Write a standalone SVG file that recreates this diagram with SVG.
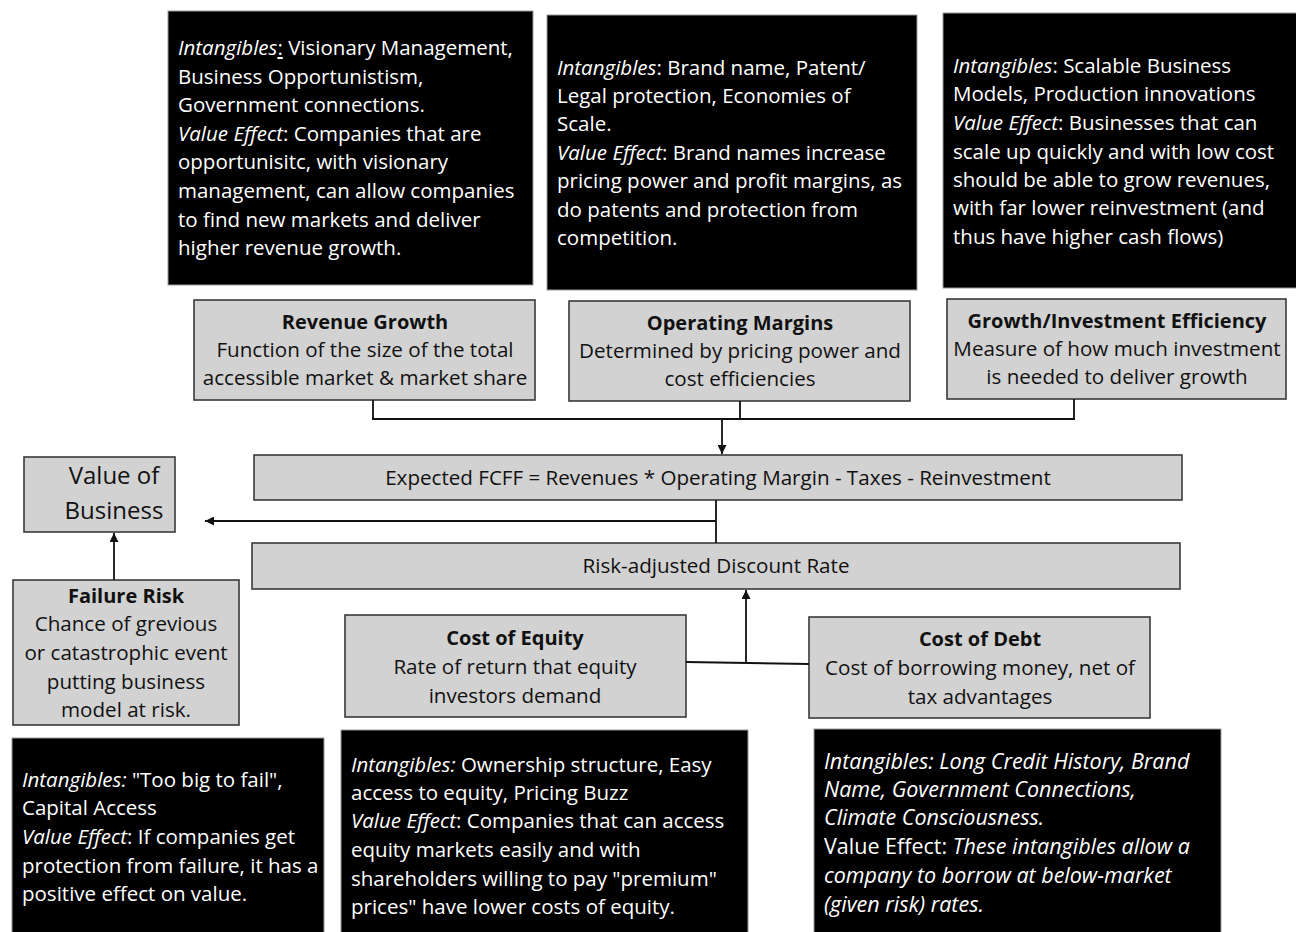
<svg xmlns="http://www.w3.org/2000/svg" width="1296" height="932" viewBox="0 0 1296 932">
<style>
.blk{fill:#000;stroke:#9a9a9a;stroke-width:1}
.gry{fill:#d2d2d2;stroke:#3a3a3a;stroke-width:1.6}
.wt{font-family:"Open Sans",Lato,sans-serif;font-size:20.5px;fill:#fff}
.gt{font-family:"Open Sans",Lato,sans-serif;font-size:20.6px;fill:#111;text-anchor:middle}
.b{font-weight:bold;font-size:20px}
.i{font-style:italic}
.ln{stroke:#111;stroke-width:1.8;fill:none}
</style>
<defs>
<marker id="ah" viewBox="0 0 10 10" refX="10" refY="5" markerWidth="9" markerHeight="9" markerUnits="userSpaceOnUse" orient="auto">
<path d="M0,0 L10,5 L0,10 z" fill="#111"/>
</marker>
</defs>
<rect width="1296" height="932" fill="#fff"/>

<g id="intang-revenue">
<rect class="blk" x="168" y="11" width="365" height="274"/>
<text class="wt"><tspan x="178" y="55"><tspan class="i">Intangibles</tspan><tspan text-decoration="underline">:</tspan> Visionary Management,</tspan><tspan x="178" y="84">Business Opportunistism,</tspan><tspan x="178" y="112">Government connections.</tspan><tspan x="178" y="141"><tspan class="i">Value Effect</tspan>: Companies that are</tspan><tspan x="178" y="169">opportunisitc, with visionary</tspan><tspan x="178" y="198">management, can allow companies</tspan><tspan x="178" y="227">to find new markets and deliver</tspan><tspan x="178" y="255">higher revenue growth.</tspan></text>
</g>

<g id="intang-margins">
<rect class="blk" x="547" y="15" width="370" height="275"/>
<text class="wt"><tspan x="557" y="75"><tspan class="i">Intangibles</tspan>: Brand name, Patent/</tspan><tspan x="557" y="103">Legal protection, Economies of</tspan><tspan x="557" y="131">Scale.</tspan><tspan x="557" y="160"><tspan class="i">Value Effect</tspan>: Brand names increase</tspan><tspan x="557" y="188">pricing power and profit margins, as</tspan><tspan x="557" y="217">do patents and protection from</tspan><tspan x="557" y="245">competition.</tspan></text>
</g>

<g id="intang-efficiency">
<rect class="blk" x="943" y="13" width="360" height="275"/>
<text class="wt"><tspan x="953" y="73"><tspan class="i">Intangibles</tspan>: Scalable Business</tspan><tspan x="953" y="101">Models, Production innovations</tspan><tspan x="953" y="130"><tspan class="i">Value Effect</tspan>: Businesses that can</tspan><tspan x="953" y="159">scale up quickly and with low cost</tspan><tspan x="953" y="187">should be able to grow revenues,</tspan><tspan x="953" y="215">with far lower reinvestment (and</tspan><tspan x="953" y="244">thus have higher cash flows)</tspan></text>
</g>

<g id="revenue-growth">
<rect class="gry" x="194" y="300" width="341" height="100"/>
<text class="gt"><tspan class="b" x="365" y="329">Revenue Growth</tspan><tspan x="365" y="357">Function of the size of the total</tspan><tspan x="365" y="385">accessible market &amp; market share</tspan></text>
</g>

<g id="operating-margins">
<rect class="gry" x="569" y="301" width="341" height="100"/>
<text class="gt"><tspan class="b" x="740" y="330">Operating Margins</tspan><tspan x="740" y="358">Determined by pricing power and</tspan><tspan x="740" y="386">cost efficiencies</tspan></text>
</g>

<g id="growth-efficiency">
<rect class="gry" x="947" y="299" width="339" height="100"/>
<text class="gt"><tspan class="b" x="1117" y="328">Growth/Investment Efficiency</tspan><tspan x="1117" y="356">Measure of how much investment</tspan><tspan x="1117" y="384">is needed to deliver growth</tspan></text>
</g>

<g id="value-of-business">
<rect class="gry" x="24" y="457" width="151" height="75"/>
<text class="gt" style="font-size:24px"><tspan x="114" y="484">Value of</tspan><tspan x="114" y="519">Business</tspan></text>
</g>

<g id="fcff">
<rect class="gry" x="254" y="455" width="928" height="45"/>
<text class="gt" x="718" y="485">Expected FCFF = Revenues * Operating Margin - Taxes - Reinvestment</text>
</g>

<g id="discount-rate">
<rect class="gry" x="252" y="543" width="928" height="46"/>
<text class="gt" x="716" y="573">Risk-adjusted Discount Rate</text>
</g>

<g id="failure-risk">
<rect class="gry" x="13" y="580" width="226" height="145"/>
<text class="gt"><tspan class="b" x="126" y="603">Failure Risk</tspan><tspan x="126" y="631">Chance of grevious</tspan><tspan x="126" y="660">or catastrophic event</tspan><tspan x="126" y="689">putting business</tspan><tspan x="126" y="717">model at risk.</tspan></text>
</g>

<g id="cost-of-equity">
<rect class="gry" x="345" y="615" width="341" height="102"/>
<text class="gt"><tspan class="b" x="515" y="645">Cost of Equity</tspan><tspan x="515" y="674">Rate of return that equity</tspan><tspan x="515" y="703">investors demand</tspan></text>
</g>

<g id="cost-of-debt">
<rect class="gry" x="809" y="617" width="341" height="101"/>
<text class="gt"><tspan class="b" x="980" y="646">Cost of Debt</tspan><tspan x="980" y="675">Cost of borrowing money, net of</tspan><tspan x="980" y="704">tax advantages</tspan></text>
</g>

<g id="intang-failure">
<rect class="blk" x="12" y="738" width="312" height="200"/>
<text class="wt"><tspan x="22" y="787"><tspan class="i">Intangibles:</tspan>  "Too big to fail",</tspan><tspan x="22" y="815">Capital Access</tspan><tspan x="22" y="844"><tspan class="i">Value Effect</tspan>: If companies get</tspan><tspan x="22" y="873">protection from failure, it has a</tspan><tspan x="22" y="901">positive effect on value.</tspan></text>
</g>

<g id="intang-equity">
<rect class="blk" x="341" y="730" width="407" height="208"/>
<text class="wt"><tspan x="351" y="772"><tspan class="i">Intangibles:</tspan> Ownership structure, Easy</tspan><tspan x="351" y="800">access to equity, Pricing Buzz</tspan><tspan x="351" y="828"><tspan class="i">Value Effect</tspan>: Companies that can access</tspan><tspan x="351" y="857">equity markets easily and with</tspan><tspan x="351" y="886">shareholders willing to pay "premium"</tspan><tspan x="351" y="914">prices" have lower costs of equity.</tspan></text>
</g>

<g id="intang-debt">
<rect class="blk" x="814" y="729" width="407" height="209"/>
<text class="wt" style="font-size:21.5px"><tspan class="i" x="824" y="769">Intangibles: Long Credit History, Brand</tspan><tspan class="i" x="824" y="797">Name, Government Connections,</tspan><tspan class="i" x="824" y="825">Climate Consciousness.</tspan><tspan x="824" y="854">Value Effect: <tspan class="i">These intangibles allow a</tspan></tspan><tspan class="i" x="824" y="883">company to borrow at below-market</tspan><tspan class="i" x="824" y="912">(given risk) rates.</tspan></text>
</g>

<g id="connectors">
<path class="ln" d="M373,400 V419 M740,401 V419 M1074,399 V419 M372,419 H1075"/>
<path class="ln" d="M722,419 V454" marker-end="url(#ah)"/>
<path class="ln" d="M716,500 V543"/>
<path class="ln" d="M716,521 H205" marker-end="url(#ah)"/>
<path class="ln" d="M114,580 V533" marker-end="url(#ah)"/>
<path class="ln" d="M686,662 L809,664"/>
<path class="ln" d="M746,663 V590" marker-end="url(#ah)"/>
</g>
</svg>
